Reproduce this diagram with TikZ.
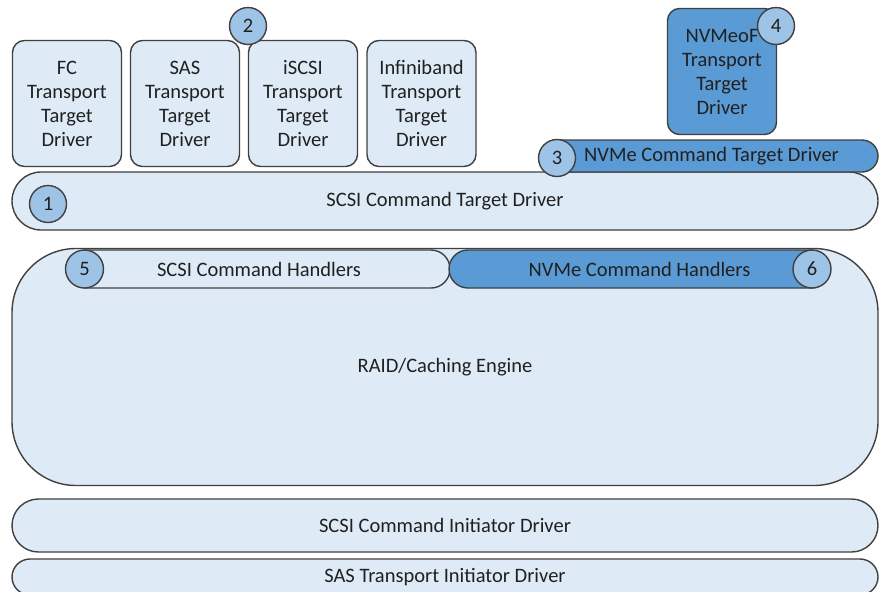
\documentclass[tikz,border=0pt]{standalone}
\usepackage{fontspec}
\setmainfont{Carlito}
\definecolor{lightfill}{HTML}{DEEBF7}
\definecolor{midfill}{HTML}{9DC3E6}
\definecolor{darkfill}{HTML}{5B9BD5}
\definecolor{edge}{HTML}{404040}
\definecolor{txt}{HTML}{202020}

\begin{document}
\begin{tikzpicture}[x=1pt,y=1pt]
            \tikzstyle{every node}+=[inner sep=0pt, text=txt, font=\fontsize{20.5}{24}\selectfont]
            \tikzstyle{tbox}=[draw=edge, line width=1.4pt, fill=lightfill, rounded corners=12pt, align=center, minimum width=109pt, minimum height=126pt]
            \tikzstyle{pill}=[draw=edge, line width=1.4pt, fill=lightfill]
            \tikzstyle{badge}=[circle, draw=edge, line width=1.4pt, fill=midfill, minimum size=37pt]
            \useasboundingbox (0,0) rectangle (879,-592);
            \clip (0,0) rectangle (879,-592);
            \node [tbox] (fc) at (67,-103.5) {FC\\Transport\\Target\\Driver};
            \node [tbox] (sas) at (185,-103.5) {SAS\\Transport\\Target\\Driver};
            \node [tbox] (iscsi) at (303,-103.5) {iSCSI\\Transport\\Target\\Driver};
            \node [tbox] (ib) at (421.5,-103.5) {Infiniband\\Transport\\Target\\Driver};
            \node [tbox, fill=darkfill] (nvmeof) at (722,-71.5) {NVMeoF\\Transport\\Target\\Driver};
            \node [badge] (n2) at (248,-26) {2};
            \node [badge] (n4) at (776,-26) {4};
            \node [pill, minimum width=866pt, minimum height=58pt, rounded corners=29pt] (scsitgt) at (445,-201) {SCSI Command Target Driver};
            \node [pill, fill=darkfill, minimum width=337pt, minimum height=32pt, rounded corners=16pt] (nvmetgt) at (709.5,-156) {\hspace*{4pt}NVMe Command Target Driver};
            \node [badge] (n1) at (48,-204) {1};
            \node [badge] (n3) at (557,-158) {3};
            \node [pill, minimum width=866pt, minimum height=237pt, rounded corners=64pt] (raid) at (445,-367) {RAID/Caching Engine};
            \node [pill, minimum width=382pt, minimum height=38pt, rounded corners=19pt] (scsih) at (259,-269) {SCSI Command Handlers};
            \node [pill, fill=darkfill, minimum width=381pt, minimum height=38pt, rounded corners=19pt] (nvmeh) at (639.5,-269) {NVMe Command Handlers};
            \node [badge, minimum size=38pt] (n5) at (84.5,-269) {5};
            \node [badge, minimum size=38pt] (n6) at (812,-269) {6};
            \node [pill, minimum width=866pt, minimum height=53pt, rounded corners=26.5pt] (scsiini) at (445,-525.5) {SCSI Command Initiator Driver};
            \node [pill, minimum width=866pt, minimum height=36pt, rounded corners=18pt] (sasini) at (445,-577) {SAS Transport Initiator Driver};
\end{tikzpicture}
\end{document}
